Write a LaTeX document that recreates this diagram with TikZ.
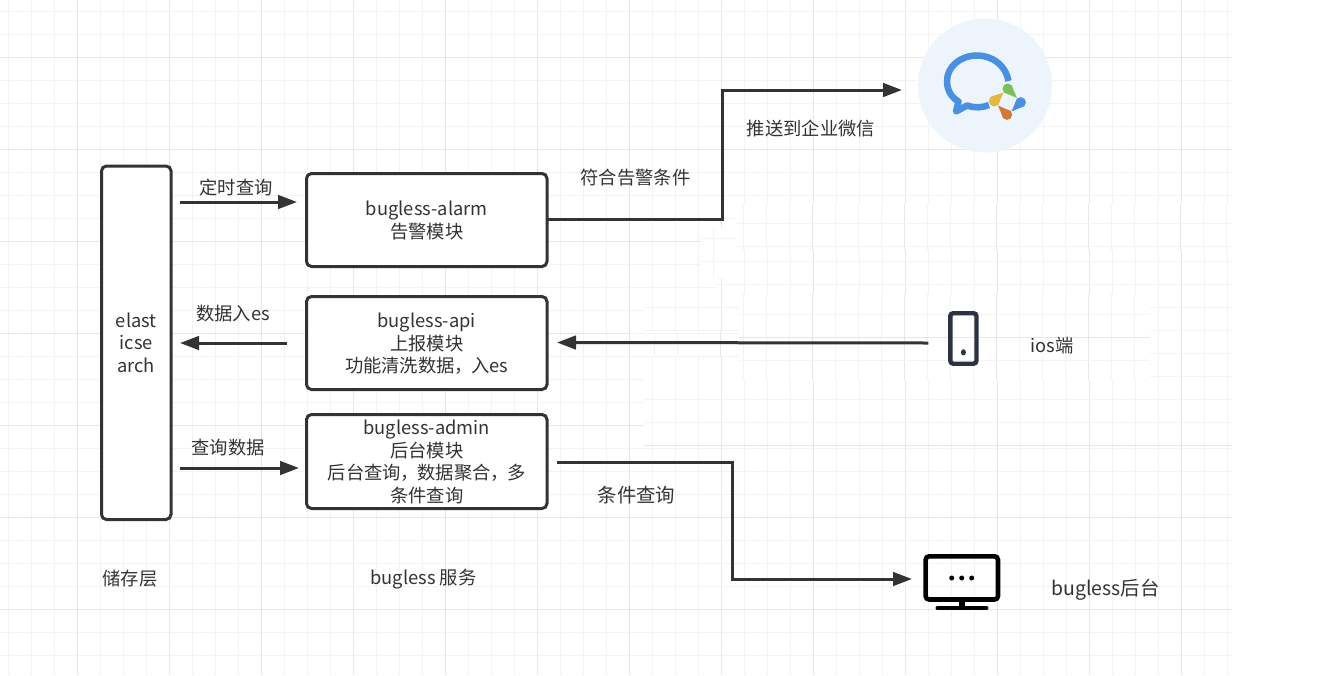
\documentclass[tikz,border=0pt]{standalone}
\usepackage{fontspec}
\setmainfont{Noto Sans CJK SC}
\usetikzlibrary{arrows.meta,calc}
\definecolor{ink}{HTML}{333333}
\definecolor{gridminor}{HTML}{F3F3F3}
\definecolor{gridmajor}{HTML}{E6E6E6}
\definecolor{wecombg}{HTML}{EEF4FB}
\definecolor{wecomblue}{HTML}{4A90E2}
\definecolor{wecomgreen}{HTML}{7CC05A}
\definecolor{wecomyellow}{HTML}{E2B93F}
\definecolor{wecomorange}{HTML}{D2793A}
\definecolor{phonecol}{HTML}{2C3242}
\tikzset{
  x=1pt,y=-1pt,
  box/.style={draw=ink,line width=3pt,rounded corners=5pt,fill=white,inner sep=0pt,outer sep=0pt,text=ink,font=\fontsize{18.3}{22.6}\selectfont,anchor=north west},
  lbl/.style={text=ink,font=\fontsize{18.3}{22}\selectfont,inner sep=0pt},
  lblbig/.style={lbl,font=\fontsize{19.4}{22}\selectfont},
  conn/.style={draw=ink,line width=3pt,-{Triangle[length=19pt,width=13.5pt]}},
  gmin/.style={draw=gridminor,line width=1pt},
  gmaj/.style={draw=gridmajor,line width=1pt},
}
% box text, set a little low in its box as in the reference
\newcommand{\boxtext}[1]{\raisebox{-2.5pt}[\height][\depth]{\begin{tabular}{@{}c@{}}#1\end{tabular}}}
\newcommand{\cm}{，\kern-1.6pt}
% a white patch holding its own shifted piece of grid
\newcommand{\gridpatch}[7]{%
  \begin{scope}
    \clip (#1,#2) rectangle (#3,#4);
    \fill[white] (#1,#2) rectangle (#3,#4);
    \foreach \i in {0,...,53}{
      \pgfmathsetmacro{\xx}{8.5+#5+23*\i}
      \draw[gmin] (\xx,#2) -- (\xx,#4);
    }
    \foreach \i in {0,...,12}{
      \pgfmathsetmacro{\xx}{77.5+#5+92*\i}
      \draw[gmaj] (\xx,#2) -- (\xx,#4);
    }
    \foreach \yy in {#6}{\draw[gmin] (#1,\yy) -- (#3,\yy);}
    \foreach \yy in {#7}{\draw[gmaj] (#1,\yy) -- (#3,\yy);}
  \end{scope}%
}
\newcommand{\teardrop}[6]{%
  \pgfmathsetmacro{\aa}{atan2(#5-#3,#4-#2)}
  \fill[#1] (#2,#3) circle (#6);
  \fill[#1] (#4,#5) -- ({#2+#6*cos(\aa+90)},{#3+#6*sin(\aa+90)}) -- ({#2+#6*cos(\aa-90)},{#3+#6*sin(\aa-90)}) -- cycle;%
}
\begin{document}
\begin{tikzpicture}
\useasboundingbox (0,0) rectangle (1330,675);
\fill[white] (0,0) rectangle (1330,675);
% grid
\foreach \i in {0,...,53}{
  \pgfmathsetmacro{\xx}{8.5+23*\i}
  \draw[gmin] (\xx,0) -- (\xx,675);
}
\foreach \i in {0,...,29}{
  \pgfmathsetmacro{\yy}{11.5+23*\i}
  \draw[gmin] (0,\yy) -- (1232,\yy);
}
\foreach \i in {0,...,12}{
  \pgfmathsetmacro{\xx}{77.5+92*\i}
  \draw[gmaj] (\xx,0) -- (\xx,675);
}
\foreach \i in {0,...,6}{
  \pgfmathsetmacro{\yy}{57.5+92*\i}
  \draw[gmaj] (0,\yy) -- (1232,\yy);
}
% pasted patches of grid
\gridpatch{736}{205}{1232}{250}{-1}{223.3,246.5}{-10}
\gridpatch{736}{250}{1232}{294}{0}{261.3,284.3}{-10}
\gridpatch{739}{294}{1150}{379}{-1}{314.3,360.3}{337.3}
\gridpatch{1150}{294}{1232}{379}{0}{307.3,330.3,353.3,376.3}{-10}
\gridpatch{644}{379}{1232}{448}{0}{399.3,422.3}{445.3}
\fill[white] (701,228) rectangle (736,278);
\draw[gmin] (701,238.3) -- (736,238.3) (701,261.3) -- (736,261.3) (713,228) -- (713,278);
\gridpatch{644}{294}{739}{332}{0}{307.3,330.3}{-10}
\fill[white] (717,278) rectangle (739,294);
\draw[gmin] (717,284.3) -- (739,284.3);
\draw[gmaj] (721.5,278) -- (721.5,294);
\fill[white] (630,332) rectangle (739,357);
\draw[gmin] (630,333.3) -- (739,333.3) (630,356.3) -- (739,356.3) (654.3,332) -- (654.3,357) (677.3,332) -- (677.3,357);
\draw[gmaj] (720.7,332) -- (720.7,357);
% boxes
\node[box,minimum width=69.5pt,minimum height=353.5pt] (es) at (101.5,166) {\boxtext{elast\\icse\\arch}};
\node[box,minimum width=240.5pt,minimum height=93pt] (alarm) at (306.5,173.5) {\boxtext{bugless-alarm\\告警模块}};
\node[box,minimum width=240.5pt,minimum height=93pt] (api) at (306.5,296.5) {\boxtext{bugless-api\\上报模块\\功能清洗数据\cm 入es}};
\node[box,minimum width=240.5pt,minimum height=94pt] (admin) at (306.5,414.5) {\boxtext{bugless-admin\\后台模块\\后台查询\cm 数据聚合\cm 多\\条件查询}};
% icons
\fill[wecombg] (985,85.5) circle (67);
\draw[wecomblue,line width=6.5pt,line join=round] (1008.5,81) .. controls (1006,66) and (993,55.5) .. (977,55.5) .. controls (960,55.5) and (947,67) .. (947,81) .. controls (947,90) and (951,97) .. (958.5,101.5) -- (956,111.5) -- (967,105.5) .. controls (974,108) and (982,108) .. (989,105);
\coordinate (wecom) at (985,85.5);
\teardrop{wecomgreen}{1007.7}{88.7}{1017}{98}{5.2}
\teardrop{wecomyellow}{994.3}{101}{1003.5}{92.5}{5.5}
\teardrop{wecomorange}{1007}{114.7}{998}{105.5}{5.2}
\teardrop{wecomblue}{1020.7}{102.3}{1011.5}{111.5}{5.2}
\draw[phonecol,line width=4.4pt,rounded corners=3pt] (950.3,313.2) rectangle (976.5,363.7);
\fill[phonecol] (963.4,352.3) ellipse (2.5 and 3.1);
\coordinate (phone) at (963.4,338);
\draw[black,line width=4.6pt,rounded corners=3.5pt] (925.6,556.3) rectangle (998,599.5);
\fill[black] (959.3,600) rectangle (964.7,608);
\draw[black,line width=4pt,line cap=round] (937.5,608.2) -- (986.5,608.2);
\foreach \xx in {951.7,961.7,971.7}{\fill[black] (\xx,578) circle (2.5);}
\coordinate (monitor) at (961,578);
% connectors
\draw[conn] ($(es.east)+(9,-140.75)$) -- ($(alarm.west)+(-9.5,-18)$);
\draw[conn] ($(api.west)+(-19.5,0)$) -- ($(es.east)+(9,0.25)$);
\draw[conn] ($(es.east)+(9,125.25)$) -- ($(admin.west)+(-7.5,6.5)$);
\draw[conn] ($(alarm.east)+(0,-0.5)$) -- ++(175,0) |- ($(wecom)+(-83,4.5)$);
\draw[conn] ($(phone)+(-35,5)$) -- ($(api.east)+(10,-0.5)$);
\draw[conn] ($(admin.east)+(10,0.5)$) -- ++(175,0) |- ($(monitor)+(-49,1)$);
% labels
\node[lbl] (t1) at (236,187.5) {定时查询};
\node[lbl] (t2) at (233,313.5) {数据入es};
\node[lbl] (t3) at (228,447.5) {查询数据};
\node[lbl] (t4) at (635.5,177.5) {符合告警条件};
\node[lbl] (t5) at (811,128.5) {推送到企业微信};
\node[lblbig] (t6) at (636.5,495.5) {条件查询};
\node[lbl] (t7) at (1052,346) {ios端};
\node[lblbig] (t8) at (1105.5,589.5) {bugless后台};
\node[lbl] (t9) at (130,578.5) {储存层};
\node[lbl] (t10) at (423.5,579) {bugless 服务};
\end{tikzpicture}
\end{document}
